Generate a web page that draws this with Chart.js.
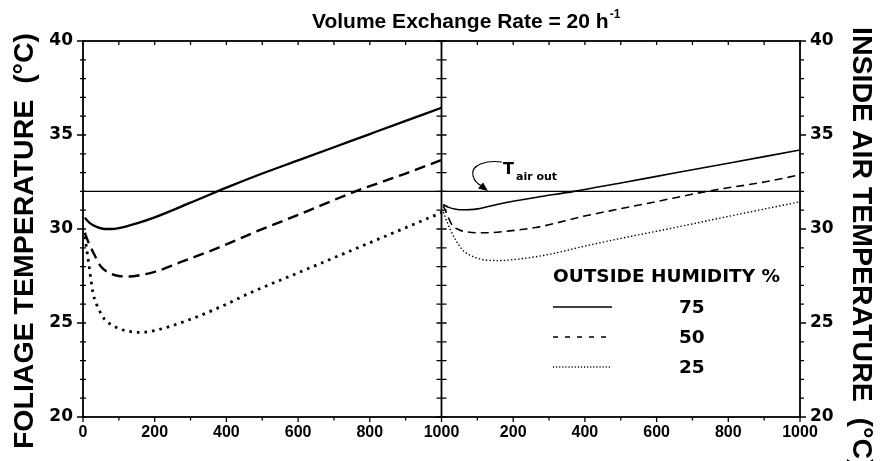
<!DOCTYPE html>
<html><head><meta charset="utf-8">
<script src="https://cdn.jsdelivr.net/npm/chart.js@4"></script>
<style>html,body{margin:0;padding:0;background:#fff;}#wrap{width:880px;height:461px;position:relative}</style>
</head><body><div id="wrap"><canvas id="c" width="880" height="461"></canvas></div>
<script>
// ---- text ----
const chartTitle = 'Volume Exchange Rate = 20 h';
const chartTitleSup = '-1';
const leftAxisTitle = 'FOLIAGE TEMPERATURE  (\u00B0C)';
const rightAxisTitle = 'INSIDE AIR TEMPERATURE  (\u00B0C)';
const legendTitle = 'OUTSIDE HUMIDITY %';
const humidityLevels = ['75', '50', '25'];
const annotationMain = 'T';
const annotationSub = 'air out';
const xTickLabels = ['0','200','400','600','800','1000','200','400','600','800','1000'];
const yTickValues = [20, 25, 30, 35, 40];

// ---- data: left panel (foliage temperature) ----
const leftX75 = [5, 20, 40, 60, 80, 100, 150, 200, 300, 400, 500, 600, 700, 800, 900, 1000];
const left75  = [30.6, 30.3, 30.1, 30.0, 30.0, 30.05, 30.3, 30.62, 31.4, 32.2, 32.95, 33.65, 34.35, 35.05, 35.75, 36.45];
const leftX50 = [5, 15, 30, 50, 75, 100, 130, 160, 200, 270, 380, 475, 600, 760, 900, 1000];
const left50  = [29.8, 29.3, 28.7, 28.0, 27.65, 27.5, 27.47, 27.55, 27.72, 28.22, 29.02, 29.8, 30.75, 32.0, 32.95, 33.67];
const leftX25 = [5, 15, 28, 45, 60, 80, 100, 130, 160, 200, 300, 400, 466, 600, 700, 800, 900, 1000];
const left25  = [29.6, 28.3, 26.6, 25.7, 25.2, 24.9, 24.7, 24.55, 24.5, 24.6, 25.2, 26.0, 26.6, 27.67, 28.47, 29.27, 30.07, 30.87];

// ---- data: right panel (inside air temperature) ----
const rightX75 = [5, 20, 40, 60, 80, 100, 170, 263, 370, 500, 600, 700, 800, 900, 1000];
const right75  = [31.3, 31.15, 31.05, 31.02, 31.03, 31.07, 31.37, 31.68, 32.0, 32.45, 32.8, 33.15, 33.5, 33.85, 34.2];
const rightX50 = [5, 15, 30, 50, 70, 100, 130, 180, 263, 402, 500, 600, 740, 900, 1000];
const right50  = [31.25, 30.8, 30.2, 29.95, 29.85, 29.8, 29.8, 29.88, 30.08, 30.7, 31.08, 31.46, 32.0, 32.5, 32.88];
const rightX25 = [5, 15, 25, 40, 58, 80, 100, 123, 160, 215, 300, 402, 500, 600, 700, 800, 900, 1000];
const right25  = [30.9, 30.4, 29.95, 29.4, 28.9, 28.6, 28.45, 28.35, 28.32, 28.4, 28.65, 29.1, 29.5, 29.88, 30.27, 30.67, 31.06, 31.45];

const tAirOut = 32;
const panelSpan = 1000;

function pts(xs, ys, off) { return xs.map((x, i) => ({ x: x + off, y: ys[i] })); }

function ds(data, width, dash) {
  return { data, borderColor: '#000', borderWidth: width, borderDash: dash, pointRadius: 0,
    cubicInterpolationMode: 'monotone', fill: false, borderCapStyle: 'butt' };
}

const datasets = [
  ds([{ x: 0, y: tAirOut }, { x: 2 * panelSpan, y: tAirOut }], 1.1, []),
  ds(pts(leftX75, left75, 0), 2.3, []),
  ds(pts(leftX50, left50, 0), 2.4, [11, 6]),
  ds(pts(leftX25, left25, 0), 2.8, [2.6, 5]),
  ds(pts(rightX75, right75, panelSpan), 1.6, []),
  ds(pts(rightX50, right50, panelSpan), 1.6, [8, 5]),
  ds(pts(rightX25, right25, panelSpan), 1.4, [1.4, 2.2]),
];

const decor = {
  id: 'decor',
  afterDatasetsDraw(chart) {
    const c = chart.ctx, xs = chart.scales.x, ys = chart.scales.y;
    const L = chart.chartArea.left, R = chart.chartArea.right, T = chart.chartArea.top, B = chart.chartArea.bottom;
    const M = xs.getPixelForValue(panelSpan);
    c.save();
    c.strokeStyle = '#000'; c.fillStyle = '#000';
    c.lineWidth = 1.8; c.setLineDash([]);
    c.strokeRect(L, T, R - L, B - T);
    c.beginPath(); c.moveTo(M, T); c.lineTo(M, B); c.stroke();
    // ticks
    c.lineWidth = 1.3;
    c.beginPath();
    for (let v = 0; v <= 2 * panelSpan; v += 100) {
      const px = xs.getPixelForValue(v);
      const major = v % 200 === 0;
      c.moveTo(px, B); c.lineTo(px, B + (major ? 5 : 3.5));
      c.moveTo(px, T); c.lineTo(px, T + 4);
    }
    for (let v = 20; v <= 40; v += 1) {
      const py = ys.getPixelForValue(v);
      const major = v % 5 === 0;
      if (major) { c.moveTo(L - 6, py); c.lineTo(L + 3, py); }
      else { c.moveTo(L - 3, py); c.lineTo(L + 3, py); }
      c.moveTo(M - 5, py); c.lineTo(M + 5, py);
      c.moveTo(R, py); c.lineTo(R + (major ? 6 : 4), py);
    }
    c.stroke();

    // title
    c.textBaseline = 'alphabetic'; c.textAlign = 'left';
    c.font = 'bold 21px "Liberation Sans", Arial, sans-serif';
    c.fillText(chartTitle, 312, 28);
    const tw = c.measureText(chartTitle).width;
    c.font = 'bold 12px "Liberation Sans", Arial, sans-serif';
    c.fillText(chartTitleSup, 312 + tw + 1, 18);

    // axis titles
    c.font = 'bold 28.5px "Liberation Sans", Arial, sans-serif';
    c.save(); c.translate(33, 241); c.rotate(-Math.PI / 2);
    c.textAlign = 'center'; c.fillText(leftAxisTitle, 0, 0); c.restore();
    c.save(); c.translate(853, 27); c.rotate(Math.PI / 2);
    c.textAlign = 'left'; c.fillText(rightAxisTitle, 0, 0); c.restore();

    // annotation T air out
    c.font = 'bold 16px "DejaVu Sans", sans-serif';
    c.fillText(annotationMain, 503, 174);
    c.font = 'bold 11px "DejaVu Sans", sans-serif';
    c.fillText(annotationSub, 516, 180);
    c.lineWidth = 1.1;
    c.beginPath();
    c.moveTo(502, 162);
    c.bezierCurveTo(488, 160, 470, 164, 473, 176);
    c.quadraticCurveTo(475, 183, 482, 186);
    c.stroke();
    c.beginPath();
    c.moveTo(488, 191); c.lineTo(478, 188.5); c.lineTo(483, 182.5); c.closePath(); c.fill();

    // legend
    c.font = 'bold 18.5px "DejaVu Sans", sans-serif';
    c.textBaseline = 'middle';
    c.fillText(legendTitle, 553, 277);
    const rowsY = [307, 337, 367];
    const dashes = [[], [5, 7], [1.1, 2]];
    const widths = [1.5, 1.5, 1.3];
    humidityLevels.forEach((h, i) => {
      c.setLineDash(dashes[i]); c.lineWidth = widths[i];
      c.beginPath(); c.moveTo(553, rowsY[i]); c.lineTo(612, rowsY[i]); c.stroke();
      c.setLineDash([]);
      c.fillText(h, 679, rowsY[i] + 1);
    });
    c.restore();
  }
};

const yTickFont = { family: '"DejaVu Sans", sans-serif', weight: 'bold', size: 17 };

new Chart(document.getElementById('c'), {
  type: 'line',
  data: { datasets },
  options: {
    responsive: false, animation: false,
    layout: { padding: { top: 41, left: 0, right: 0, bottom: 0 } },
    plugins: { legend: { display: false }, tooltip: { enabled: false }, title: { display: false } },
    scales: {
      x: {
        type: 'linear', min: 0, max: 2 * panelSpan,
        grid: { display: false, drawTicks: false }, border: { display: false },
        ticks: { stepSize: 200, autoSkip: false, maxRotation: 0, padding: 6, color: '#000',
          font: { family: '"Liberation Sans", Arial, sans-serif', weight: 'bold', size: 16 },
          callback: (v) => xTickLabels[Math.round(v / 200)] },
        afterFit: (s) => { s.height = 44; }
      },
      y: {
        position: 'left', min: 20, max: 40,
        grid: { display: false, drawTicks: false }, border: { display: false },
        afterBuildTicks: (s) => { s.ticks = yTickValues.map(v => ({ value: v })); },
        ticks: { autoSkip: false, padding: 10, color: '#000', font: yTickFont },
        afterFit: (s) => { s.width = 83; }
      },
      y2: {
        position: 'right', min: 20, max: 40,
        grid: { display: false, drawTicks: false }, border: { display: false },
        afterBuildTicks: (s) => { s.ticks = yTickValues.map(v => ({ value: v })); },
        ticks: { autoSkip: false, padding: 10, color: '#000', font: yTickFont },
        afterFit: (s) => { s.width = 80; }
      }
    }
  },
  plugins: [decor]
});
</script></body></html>
